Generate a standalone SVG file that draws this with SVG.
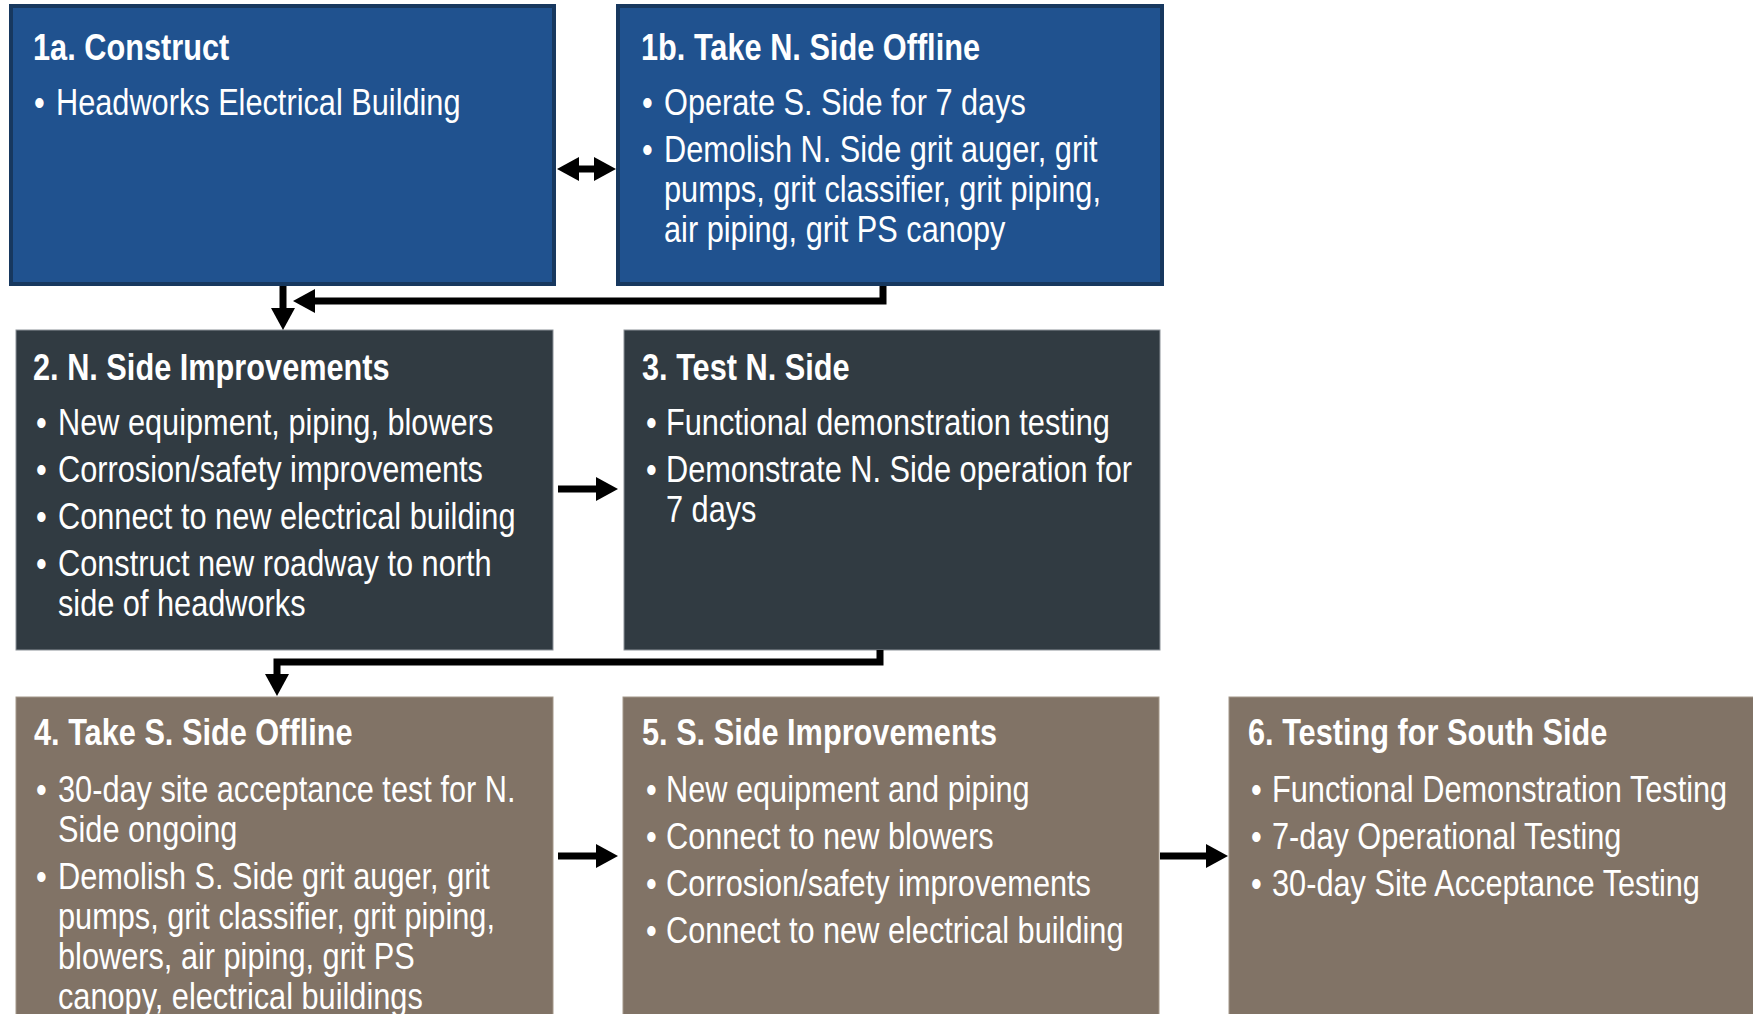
<svg xmlns="http://www.w3.org/2000/svg" width="1753" height="1014" viewBox="0 0 1753 1014">
<style>
text{font-family:"Liberation Sans Narrow","Arial Narrow","Liberation Sans",Arial,sans-serif;font-size:37px;fill:#ffffff;transform-box:fill-box;transform-origin:0 0;transform:scaleX(0.83)}
.t{font-weight:bold}
.blue{fill:#20528f;stroke:#17385f;stroke-width:4}
.slate{fill:#313b42;stroke:#8c9298;stroke-width:1}
.taupe{fill:#817366;stroke:#a39889;stroke-width:1}
.c{fill:none;stroke:#000;stroke-width:7}
</style>
<defs>
<marker id="ah" markerUnits="userSpaceOnUse" markerWidth="24" markerHeight="26" refX="2" refY="12" orient="auto-start-reverse" viewBox="0 0 24 26">
<path d="M0,0 L22,12 L0,24 Z" fill="#000"/>
</marker>
</defs>
<rect width="1753" height="1014" fill="#ffffff"/>
<g id="n1a">
<rect class="blue" x="11" y="6" width="543" height="278"/>
<text class="t" x="33" y="60">1a. Construct</text>
<text x="34" y="115">•</text><text x="56" y="115">Headworks Electrical Building</text>
</g>
<g id="n1b">
<rect class="blue" x="618" y="6" width="544" height="278"/>
<text class="t" x="641" y="60">1b. Take N. Side Offline</text>
<text x="642" y="115">•</text><text x="664" y="115">Operate S. Side for 7 days</text>
<text x="642" y="162">•</text><text x="664" y="162">Demolish N. Side grit auger, grit</text>
<text x="664" y="202">pumps, grit classifier, grit piping,</text>
<text x="664" y="242">air piping, grit PS canopy</text>
</g>
<g id="n2">
<rect class="slate" x="16" y="330" width="537" height="320"/>
<text class="t" x="33" y="380">2. N. Side Improvements</text>
<text x="36" y="435">•</text><text x="58" y="435">New equipment, piping, blowers</text>
<text x="36" y="482">•</text><text x="58" y="482">Corrosion/safety improvements</text>
<text x="36" y="529">•</text><text x="58" y="529">Connect to new electrical building</text>
<text x="36" y="576">•</text><text x="58" y="576">Construct new roadway to north</text>
<text x="58" y="616">side of headworks</text>
</g>
<g id="n3">
<rect class="slate" x="624" y="330" width="536" height="320"/>
<text class="t" x="642" y="380">3. Test N. Side</text>
<text x="646" y="435">•</text><text x="666" y="435">Functional demonstration testing</text>
<text x="646" y="482">•</text><text x="666" y="482">Demonstrate N. Side operation for</text>
<text x="666" y="522">7 days</text>
</g>
<g id="n4">
<rect class="taupe" x="16" y="697" width="537" height="330"/>
<text class="t" x="34" y="745">4. Take S. Side Offline</text>
<text x="36" y="802">•</text><text x="58" y="802">30-day site acceptance test for N.</text>
<text x="58" y="842">Side ongoing</text>
<text x="36" y="889">•</text><text x="58" y="889">Demolish S. Side grit auger, grit</text>
<text x="58" y="929">pumps, grit classifier, grit piping,</text>
<text x="58" y="969">blowers, air piping, grit PS</text>
<text x="58" y="1009">canopy, electrical buildings</text>
</g>
<g id="n5">
<rect class="taupe" x="623" y="697" width="536" height="330"/>
<text class="t" x="642" y="745">5. S. Side Improvements</text>
<text x="646" y="802">•</text><text x="666" y="802">New equipment and piping</text>
<text x="646" y="849">•</text><text x="666" y="849">Connect to new blowers</text>
<text x="646" y="896">•</text><text x="666" y="896">Corrosion/safety improvements</text>
<text x="646" y="943">•</text><text x="666" y="943">Connect to new electrical building</text>
</g>
<g id="n6">
<rect class="taupe" x="1229" y="697" width="530" height="330"/>
<text class="t" x="1248" y="745">6. Testing for South Side</text>
<text x="1251" y="802">•</text><text x="1272" y="802">Functional Demonstration Testing</text>
<text x="1251" y="849">•</text><text x="1272" y="849">7-day Operational Testing</text>
<text x="1251" y="896">•</text><text x="1272" y="896">30-day Site Acceptance Testing</text>
</g>
<g id="connectors">
<path class="c" d="M577,169 L596,169" marker-start="url(#ah)" marker-end="url(#ah)"/>
<path class="c" d="M283,286 L283,310" marker-end="url(#ah)"/>
<path class="c" d="M883,286 L883,301 L313,301" marker-end="url(#ah)"/>
<path class="c" d="M558,489 L598,489" marker-end="url(#ah)"/>
<path class="c" d="M880,650 L880,662 L277,662 L277,676" marker-end="url(#ah)"/>
<path class="c" d="M558,856 L598,856" marker-end="url(#ah)"/>
<path class="c" d="M1160,856 L1208,856" marker-end="url(#ah)"/>
</g>
</svg>
